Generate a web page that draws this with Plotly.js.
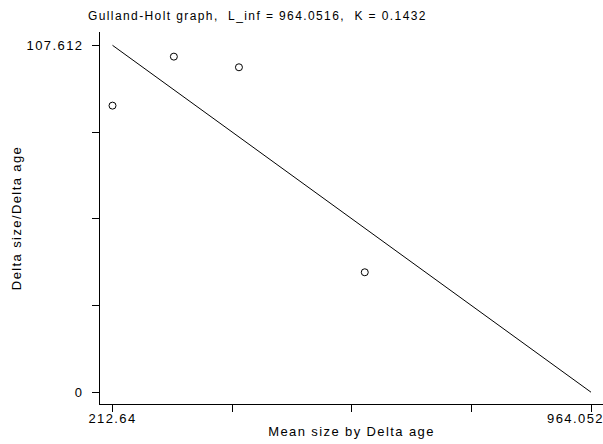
<!DOCTYPE html>
<html>
<head>
<meta charset="utf-8">
<script src="https://cdn.plot.ly/plotly-3.0.1.min.js"></script>
<style>
html,body{margin:0;padding:0;background:#fff;}
#chart{width:603px;height:444px;}
.js-plotly-plot text{letter-spacing:1.4px;}
</style>
</head>
<body>
<div id="chart"></div>
<script>
// Observed points
const meanSize = [212.64, 309.0, 411.2, 608.8];
const deltaRate = [88.9, 104.1, 100.8, 37.2];
// Fitted Gulland-Holt line endpoints
const fitX = [212.64, 964.052];
const fitY = [107.612, 0];
// Ticks
const xTickVals = [212.64, 400.493, 588.346, 776.199, 964.052];
const xTickText = ["212.64", "", "", "", "964.052"];
const yTickVals = [0, 26.903, 53.806, 80.709, 107.612];
const yTickText = ["0", "", "", "", "107.612"];
const titleText = "Gulland-Holt graph,  L_inf = 964.0516,  K = 0.1432";
const xTitle = "Mean size by Delta age";
const yTitle = "Delta size/Delta age";

const fam = "Liberation Sans, Arial, Helvetica, sans-serif";

const traces = [
  {x: fitX, y: fitY, type: "scatter", mode: "lines",
   line: {color: "#000", width: 1}, hoverinfo: "skip"},
  {x: meanSize, y: deltaRate, type: "scatter", mode: "markers",
   marker: {symbol: "circle-open", size: 7, color: "#000", line: {width: 1, color: "#000"}}}
];

// The last x tick label is pulled inside the figure (as in the reference), so it is drawn as an annotation
const n = xTickVals.length - 1;
const shownTickText = xTickText.map((t, i) => i === n ? "" : t);

const layout = {
  width: 603, height: 444,
  margin: {l: 100, r: 0, t: 32, b: 40, pad: 0},
  paper_bgcolor: "#fff", plot_bgcolor: "#fff",
  showlegend: false,
  font: {family: fam, size: 13, color: "#000"},
  title: {text: titleText, font: {family: fam, size: 12, color: "#000"},
          xref: "container", yref: "container", x: 88/603, xanchor: "left",
          y: 1 - 16/444, yanchor: "middle"},
  xaxis: {
    range: [192.99, 982.9], showgrid: false, zeroline: false,
    showline: true, linecolor: "#000", linewidth: 1,
    ticks: "outside", ticklen: 7, tickwidth: 1, tickcolor: "#000",
    tickmode: "array", tickvals: xTickVals, ticktext: shownTickText,
    tickfont: {family: fam, size: 13, color: "#000"},
    ticklabelstandoff: -5,
    title: {text: xTitle, standoff: 2, font: {family: fam, size: 13, color: "#000"}}
  },
  yaxis: {
    range: [-3.66, 111.74], showgrid: false, zeroline: false,
    showline: true, linecolor: "#000", linewidth: 1,
    ticks: "outside", ticklen: 7, tickwidth: 1, tickcolor: "#000",
    tickmode: "array", tickvals: yTickVals, ticktext: yTickText,
    tickfont: {family: fam, size: 13, color: "#000"},
    ticklabelstandoff: 6,
    title: {text: yTitle, standoff: 11, font: {family: fam, size: 13, color: "#000"}}
  },
  annotations: [{
    text: xTickText[n], x: xTickVals[n], xref: "x", y: 0, yref: "paper",
    xanchor: "right", yanchor: "middle", xshift: 10, yshift: -14,
    showarrow: false, font: {family: fam, size: 13, color: "#000"}
  }]
};

Plotly.newPlot("chart", traces, layout, {staticPlot: true, displayModeBar: false});
</script>
</body>
</html>
